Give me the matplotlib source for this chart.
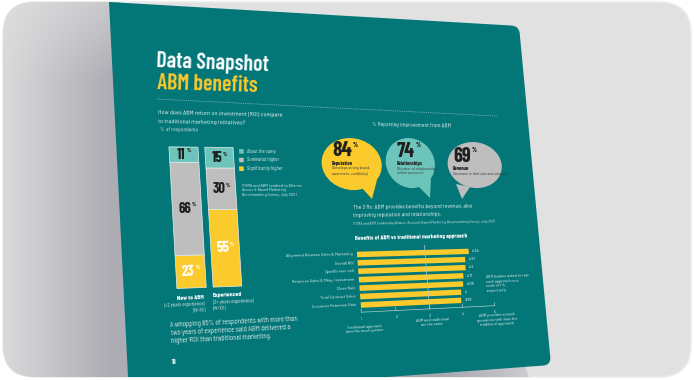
import numpy as np
import matplotlib
matplotlib.use('Agg')
import matplotlib.pyplot as plt
from matplotlib.transforms import Transform, Affine2D
from matplotlib.patches import FancyBboxPatch, PathPatch, Ellipse, Polygon, Rectangle
from matplotlib.path import Path

# ---- data -------------------------------------------------------------
stack_groups = ['New to ABM', 'Experienced']
stack_notes = ['(<2 years experience)\n(N=XX)', '(2+ years experience)\n(N=XX)']
roi_levels = ['About the same', 'Somewhat higher', 'Significantly higher']
new_to_abm = [11, 66, 23]
experienced = [15, 30, 55]

bubble_pct = [84, 74, 69]
bubble_title = ['Reputation', 'Relationships', 'Revenue']
bubble_note = ['(Develops strong brand,\nawareness, credibility)',
               '(Number of relationships\nwithin accounts)',
               '(Increase in deal size and velocity)']

benefit_labels = ['Alignment Between Sales & Marketing', 'Overall ROI', 'Upsell/cross-sell',
                  'Return on Sales & Mktg. Investment', 'Close Rate', 'Total Contract Value',
                  'Customer Retention Rate']
benefit_scores = [4.34, 4.21, 4.2, 4.11, 4.08, 4.0, 3.98]
score_labels = ['4.34', '4.21', '4.2', '4.11', '4.08', '4', '3.98']
scale_ticks = [1, 2, 3, 4, 5]
scale_notes = {1: 'Traditional approach\nbenefits much greater',
               3: 'ABM and traditional\nare the same',
               5: 'ABM provides a much\ngreater benefit than the\ntraditional approach'}

TEAL = '#037678'
YEL = '#fbca2d'
MINT = '#6dc4ba'
GREY = '#bebebe'
INK = '#1d1d1d'
stack_colors = [MINT, GREY, YEL]
bubble_colors = [YEL, MINT, GREY]

COND = ['Barlow Condensed', 'DejaVu Sans']
SEMI = ['Barlow Semi Condensed', 'DejaVu Sans']
plt.rcParams['font.family'] = SEMI


# ---- page seen in perspective -----------------------------------------
class Perspective(Transform):
    input_dims = output_dims = 2
    is_separable = False
    has_inverse = True

    def __init__(self, H):
        super().__init__()
        self.H = H

    def transform_non_affine(self, values):
        v = np.asarray(values, dtype=float)
        flat = v.ndim == 1
        v = np.atleast_2d(v)
        p = np.column_stack([v, np.ones(len(v))]) @ self.H.T
        out = p[:, :2] / p[:, 2:3]
        return out[0] if flat else out

    def inverted(self):
        return Perspective(np.linalg.inv(self.H))


def homography(src, dst):
    A = []
    for (x, y), (u, v) in zip(src, dst):
        A.append([x, y, 1, 0, 0, 0, -u * x, -u * y, -u])
        A.append([0, 0, 0, x, y, 1, -v * x, -v * y, -v])
    h = np.linalg.svd(np.array(A, float))[2][-1]
    return (h / h[-1]).reshape(3, 3)


PW, PH = 420, 394
corners = [(109, 2), (519, 26), (551, 365), (129, 396)]
H = homography([(0, 0), (PW, 0), (PW, PH), (0, PH)], corners)
HINV = np.linalg.inv(H)


def pg(x, y):
    p = HINV @ np.array([x, y, 1.0])
    return p[0] / p[2], p[1] / p[2]


def per_px(x, y):
    u0, v0 = pg(x, y)
    return pg(x + 1, y)[0] - u0, pg(x, y + 1)[1] - v0


def slope_deg(x, y):
    u, v = pg(x, y)
    a = H @ np.array([u, v, 1.0])
    b = H @ np.array([u + 1, v, 1.0])
    a, b = a[:2] / a[2], b[:2] / b[2]
    return -np.degrees(np.arctan2(b[1] - a[1], b[0] - a[0]))


fig = plt.figure(figsize=(6.94, 3.8), dpi=100, facecolor='white')
ax = fig.add_axes([0, 0, 1, 1])
ax.set_autoscale_on(False)
ax.set_xlim(0, 694)
ax.set_ylim(380, 0)
ax.axis('off')
T = Perspective(H) + ax.transData

# background card
card = FancyBboxPatch((3, 2), 688, 375, boxstyle='round,pad=0,rounding_size=32',
                      fc='#e1e1e1', ec='#ececec', lw=1.2, zorder=0)
ax.add_patch(card)

# shadow of the page
gx, gy = np.meshgrid(np.arange(694) + 0.5, np.arange(380) + 0.5)
fx = np.interp(gx, [0, 30, 110, 300, 440, 500, 530, 570], [0.1, 0.3, 0.85, 0.95, 0.95, 0.55, 0.3, 0.0])
fy = 0.45 + 0.55 * np.clip(gy / 80, 0, 1)
d = (fx * fy)[..., None]
bg = np.array([225, 225, 225]) / 255
dark = np.array([165, 163, 172]) / 255
rgba = np.ones((380, 694, 4))
rgba[..., :3] = bg * (1 - d) + dark * d
shadow = Path([(-5, -5), (112, -5), (525, 366), (534, 390), (-5, 390)])
rgba[..., 3] = shadow.contains_points(np.column_stack([gx.ravel(), gy.ravel()])).reshape(380, 694)
im = ax.imshow(rgba, extent=[0, 694, 380, 0], zorder=0.5, interpolation='bilinear')
im.set_clip_path(card)

# the page itself, right corners rounded
r = 9
page_path = Path([(0, 0), (PW - r, 0), (PW, 0), (PW, r), (PW, PH - r), (PW, PH), (PW - r, PH), (0, PH), (0, 0)],
                 [Path.MOVETO, Path.LINETO, Path.CURVE3, Path.CURVE3, Path.LINETO,
                  Path.CURVE3, Path.CURVE3, Path.LINETO, Path.CLOSEPOLY])
page = PathPatch(page_path, fc=TEAL, ec='none', transform=T, zorder=1)
ax.add_patch(page)
page.set_clip_path(card)


def txt(x, y, s, size, color='white', weight='normal', family=SEMI, ha='left', va='baseline', **kw):
    u, v = pg(x, y)
    return ax.text(u, v, s, transform=T, transform_rotates_text=True, rotation_mode='anchor',
                   fontsize=size, color=color, fontweight=weight, family=family,
                   ha=ha, va=va, zorder=5, **kw)


def pct_sign(t, size, color, angle):
    # small superscript % hooked to the top-right corner of a number
    ax.annotate('%', xy=(1, 1), xycoords=t, xytext=(0.4, -0.6), textcoords='offset points',
                ha='left', va='top', fontsize=size, fontweight='bold', family=COND,
                color=color, rotation=angle, zorder=5)


# ---- header -------------------------------------------------------------
txt(156, 67, 'Data Snapshot', 15.8, weight='semibold', family=COND)
txt(157, 89, 'ABM benefits', 15.8, color=YEL, weight='semibold', family=COND)
(u0, v0), (u1, v1) = pg(157, 99), pg(497, 116)
ax.plot([u0, u1], [v0, v1], transform=T, color='#8fc1c1', lw=0.6, ls=(0, (1, 1.2)), zorder=3)

# ---- left: ROI stacked bars ----------------------------------------------
txt(158, 114, 'How does ABM return on investment (ROI) compare', 4.6, color='#e8f2f2')
txt(158, 123, 'to traditional marketing initiatives?', 4.6, color='#e8f2f2')
txt(160, 131, '% of respondents', 4.0, color='#cfe3e3')

uc0, vtop = pg(183.5, 147)
uc1 = pg(219, 148)[0]
vbot = pg(190, 288)[1]
du = uc1 - uc0
sc = (vbot - vtop) / 100
bw = (pg(198, 147)[0] - pg(169, 147)[0]) / du
Tstack = Affine2D().scale(du, -sc).translate(uc0, vbot) + T
ang_stack = slope_deg(200, 220)

idx = np.arange(len(stack_groups))
bottom = np.zeros(len(stack_groups))
for lvl in [2, 1, 0]:
    vals = np.array([new_to_abm[lvl], experienced[lvl]], float)
    ax.bar(idx, vals, width=bw, bottom=bottom, color=stack_colors[lvl], edgecolor='#e6eeee',
           linewidth=0.5, transform=Tstack, zorder=3)
    col = 'white' if lvl == 2 else INK
    for i in idx:
        mid = bottom[i] + vals[i] / 2
        t = ax.text(i - 0.07, mid, f'{vals[i]:.0f}', transform=Tstack, transform_rotates_text=True,
                    rotation_mode='anchor', ha='center', va='center', fontsize=10.5, fontweight='bold',
                    family=COND, color=col, zorder=5)
        pct_sign(t, 4.2, col, ang_stack)
    bottom += vals

# legend
for k, lab in enumerate(roi_levels):
    y = 149 + 8.7 * k
    u, v = pg(239, y)
    w, h = per_px(239, y)
    ax.add_patch(Rectangle((u, v), 4.6 * w, 4.6 * h, fc=stack_colors[k], ec='none', transform=T, zorder=3))
    txt(247, y + 2.3, lab, 3.4, va='center', color='#e6f0f0')

txt(242, 184, 'ITSMA and ABM Leadership Alliance,\nAccount-Based Marketing\nBenchmarking Survey, July 2021',
    3.2, va='top', color='#e6f0f0', linespacing=1.15)

# group labels
txt(204, 297, stack_groups[0], 4.6, weight='bold', family=COND, ha='right', va='center')
txt(205, 301, stack_notes[0], 3.6, ha='right', va='top', color='#e0eded', linespacing=1.3)
txt(213, 296, stack_groups[1], 4.6, weight='bold', family=COND, ha='left', va='center')
txt(213, 300, stack_notes[1], 3.6, ha='left', va='top', color='#e0eded', linespacing=1.3)

txt(170, 322, 'A whopping 85% of respondents with more than\ntwo years of experience said ABM delivered a\n'
    'higher ROI than traditional marketing.', 5.0, va='top', color='#e6f0f0', linespacing=1.2)
txt(172, 364, '18', 4.8, weight='bold', family=COND)

# ---- right: bubbles -------------------------------------------------------
txt(372, 126, '% Reporting improvement from ABM', 4.0, color='#e6f0f0')

bubble_geom = [((352, 164), 30, 26, [(361, 187), (377, 180), (372, 199)]),
               ((410.5, 163), 24.5, 25, [(418, 186), (431, 179), (430, 198)]),
               ((475, 165), 27, 23, [(456, 184), (470, 187), (462, 199)])]
for (c, rx, ry, tail), col in zip(bubble_geom, bubble_colors):
    u, v = pg(*c)
    w, h = per_px(*c)
    ax.add_patch(Ellipse((u, v), 2 * rx * w, 2 * ry * h, fc=col, ec='none', transform=T, zorder=3))
    ax.add_patch(Polygon([pg(*p) for p in tail], closed=True, fc=col, ec='none', transform=T, zorder=3))

bubble_text_pos = [(332, 156, 15.5), (397, 156.5, 14.5), (453, 161.5, 14.5)]
for (x, y, fs), pct, title, note in zip(bubble_text_pos, bubble_pct, bubble_title, bubble_note):
    t = txt(x, y, str(pct), fs, color=INK, weight='bold', family=COND)
    pct_sign(t, 4.8, INK, slope_deg(x, y))
    txt(x, y + 8.6, title, 3.8, color=INK, weight='bold', family=COND)
    txt(x, y + 10.0, note, 3.0, color='#333333', va='top', linespacing=1.15)

txt(353, 209, 'The 3 Rs: ABM provides benefits beyond revenue, also', 4.2, color='#e6f0f0')
txt(353, 217, 'improving reputation and relationships.', 4.2, color='#e6f0f0')
txt(353, 225, 'ITSMA and ABM Leadership Alliance, Account-Based Marketing Benchmarking Survey, July 2021',
    2.8, color='#d6e6e6')

# ---- right: benefits bar chart --------------------------------------------
txt(355, 240, 'Benefits of ABM vs traditional marketing approach', 4.4, weight='bold', family=COND)

ub, vb0 = pg(357, 254.5)
vb6 = pg(361, 305)[1]
kx = (pg(490, 254.5)[0] - ub) / 4
ky = (vb6 - vb0) / 6
Tchart = Affine2D().translate(-1, 0).scale(kx, ky).translate(ub, vb0) + T

rows = np.arange(len(benefit_labels))
ax.plot([3, 3], [-0.9, 6.85], transform=Tchart, color='#a9cfcf', lw=0.5, zorder=3.5)
ax.barh(rows, np.array(benefit_scores) - 1, left=1, height=0.66, color=YEL, ec='none',
        transform=Tchart, zorder=3)
for rw, lab, s, sl in zip(rows, benefit_labels, benefit_scores, score_labels):
    ax.text(0.88, rw, lab, transform=Tchart, transform_rotates_text=True, rotation_mode='anchor',
            ha='right', va='center', fontsize=3.3, color='#e6f0f0', zorder=5)
    ax.text(s + 0.1, rw, sl, transform=Tchart, transform_rotates_text=True, rotation_mode='anchor',
            ha='left', va='center', fontsize=3.3, color='white', zorder=5)

ax.plot([1, 5], [6.85, 6.85], transform=Tchart, color='#a9cfcf', lw=0.5, zorder=3)
for t in scale_ticks:
    ax.plot([t, t], [6.85, 6.5], transform=Tchart, color='#a9cfcf', lw=0.5, zorder=3)
    ax.text(t, 7.65, str(t), transform=Tchart, transform_rotates_text=True, rotation_mode='anchor',
            ha='center', va='center', fontsize=3.3, color='#e6f0f0', zorder=5)
for t, note, row in zip(scale_notes, scale_notes.values(), [8.35, 8.0, 7.8]):
    ax.text(t + 0.05, row, note, transform=Tchart, transform_rotates_text=True, rotation_mode='anchor',
            ha='center', va='top', fontsize=3.2, color='#e6f0f0', linespacing=1.15, zorder=5)

txt(486, 275, 'ABM leaders asked to rate\neach approach on a\nscale of 1-5,\nrespectively', 3.1,
    va='top', color='#e6f0f0', linespacing=1.25)

fig.savefig('out.png', dpi=100, facecolor='white')
